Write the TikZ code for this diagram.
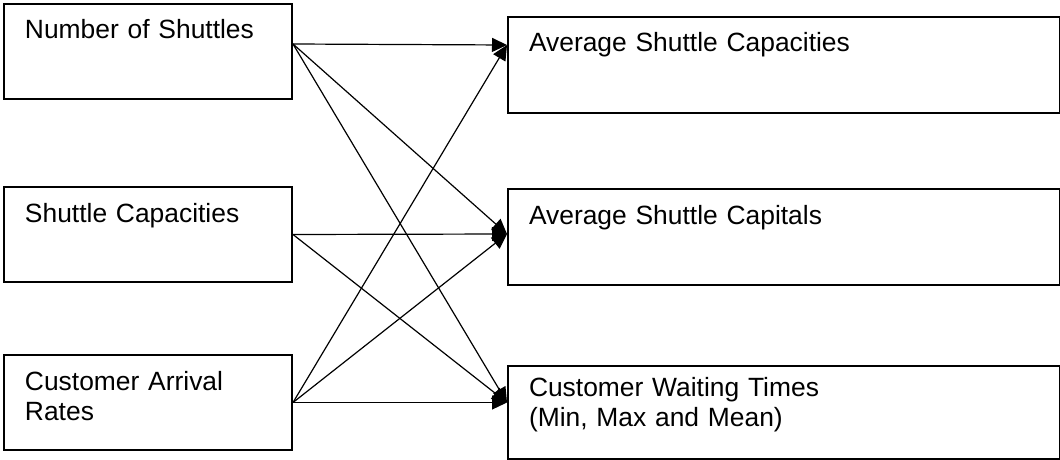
\documentclass[tikz,border=0pt]{standalone}
\usepackage{fontspec}
\setmainfont{Liberation Sans}
\usetikzlibrary{arrows.meta,positioning}

\tikzset{
  box/.style={draw, line width=1pt, anchor=north west, align=left,
    inner xsep=10.5pt, inner ysep=0pt,
    font=\fontsize{13.2}{15}\selectfont, text height=17.5pt, text depth=30pt},
  inbox/.style={box, text width=123pt},
  outbox/.style={box, text width=255pt},
  link/.style={-{Triangle[length=7.5pt,width=7pt]}, line width=0.6pt}
}

\begin{document}
\begin{tikzpicture}[x=0.5pt,y=-0.5pt]
\useasboundingbox (0,0) rectangle (1060,460);
% inputs
\node[inbox] (nshut) at (3,3) {Number of Shuttles};
\node[inbox] (scap) at (3,186) {Shuttle Capacities};
\node[inbox] (arrival) at (3,354) {Customer Arrival\\Rates};
% outputs
\node[outbox, text depth=30.5pt] (avgcap) at (507,16) {Average Shuttle Capacities};
\node[outbox, text depth=30.5pt] (avgcapital) at (507,188) {Average Shuttle Capitals};
\node[outbox, text height=15pt, text depth=31.5pt] (waiting) at (507,365) {Customer Waiting Times\\(Min, Max and Mean)};

\coordinate (avgcap-in) at ([yshift=10pt]avgcap.west);
\coordinate (avgcapital-in) at ([yshift=1.5pt]avgcapital.west);
\coordinate (waiting-in) at ([yshift=5pt]waiting.west);

\foreach \o in {avgcap,avgcapital,waiting}
  \draw[link] ([yshift=3.75pt]nshut.east) -- (\o-in);
\foreach \o in {avgcapital,waiting}
  \draw[link] (scap.east) -- (\o-in);
\foreach \o in {avgcap,avgcapital,waiting}
  \draw[link] (arrival.east) -- (\o-in);
\end{tikzpicture}
\end{document}
